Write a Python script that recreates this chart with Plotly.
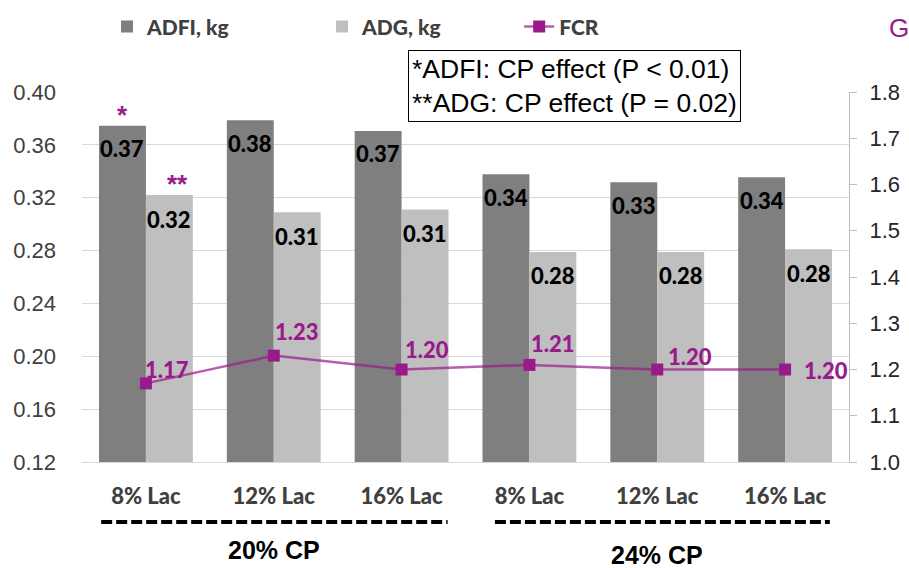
import plotly.graph_objects as go

categories = ["8% Lac", "12% Lac", "16% Lac", "8% Lac", "12% Lac", "16% Lac"]
adfi = [0.3745, 0.3786, 0.3705, 0.3378, 0.3317, 0.3355]
adg = [0.322, 0.309, 0.311, 0.279, 0.279, 0.281]
fcr = [1.17, 1.23, 1.20, 1.21, 1.20, 1.20]
cp_groups = ["20% CP", "24% CP"]
cp_centers = [1.0, 4.0]
cp_spans = [(-0.35, 2.36), (2.73, 5.35)]
left_ticks = [0.12, 0.16, 0.20, 0.24, 0.28, 0.32, 0.36, 0.40]
right_ticks = [1.0, 1.1, 1.2, 1.3, 1.4, 1.5, 1.6, 1.7, 1.8]

x = list(range(len(categories)))
DARK = "#7f7f7f"
LIGHT = "#bfbfbf"
PURPLE = "#991a8a"
LABEL_FONT = "Lato, Open Sans, sans-serif"
ARIAL = "Liberation Sans, Arial, sans-serif"

# label offsets (px) for the FCR value labels: (dx of left edge, dy of centre)
fcr_label_offsets = [(0, 14), (2, 24), (4, 20), (3, 21), (12, 13), (20, -1)]

fig = go.Figure()
fig.add_trace(go.Bar(x=x, y=adfi, name="ADFI, kg", marker_color=DARK, marker_line_width=0,
                     legend="legend"))
fig.add_trace(go.Bar(x=x, y=adg, name="ADG, kg", marker_color=LIGHT, marker_line_width=0,
                     legend="legend2"))
fig.add_trace(go.Scatter(
    x=x, y=fcr, name="FCR", yaxis="y2", mode="lines+markers",
    line=dict(color="rgba(153,26,138,0.7)", width=2.5),
    marker=dict(symbol="square", size=12, color=PURPLE),
    cliponaxis=False, legend="legend3",
))

annotations = []
half = 23.5
bold_lbl = dict(family=LABEL_FONT, size=22, color="black", weight=900)
for i in x:
    annotations.append(dict(x=i, y=adfi[i], xref="x", yref="y", text=f"{adfi[i]:.2f}",
                            showarrow=False, xshift=-half, yshift=-23, yanchor="middle",
                            font=bold_lbl))
    annotations.append(dict(x=i, y=adg[i], xref="x", yref="y", text=f"{adg[i]:.2f}",
                            showarrow=False, xshift=half, yshift=-24, yanchor="middle",
                            font=bold_lbl))
    dx, dy = fcr_label_offsets[i]
    annotations.append(dict(x=i, y=fcr[i], xref="x", yref="y2", text=f"{fcr[i]:.2f}",
                            showarrow=False, xanchor="left", yanchor="middle",
                            xshift=dx - 3, yshift=dy,
                            font=dict(family=LABEL_FONT, size=22, color=PURPLE, weight=900)))
# significance stars
annotations.append(dict(x=0, y=adfi[0], xref="x", yref="y", text="*", showarrow=False,
                        xshift=-half, yshift=-6, yanchor="bottom",
                        font=dict(family=ARIAL, size=26, color=PURPLE, weight="bold")))
annotations.append(dict(x=0, y=adg[0], xref="x", yref="y", text="**", showarrow=False,
                        xshift=half + 8, yshift=-6, yanchor="bottom",
                        font=dict(family=ARIAL, size=26, color=PURPLE, weight="bold")))
# note box
annotations.append(dict(x=0.425, y=1.1135, xref="paper", yref="paper", xanchor="left", yanchor="top",
                        text="*ADFI: CP effect (P < 0.01)<br>**ADG: CP effect (P = 0.02)",
                        align="left", showarrow=False, bordercolor="black", borderwidth=1,
                        borderpad=3, bgcolor="white",
                        font=dict(family=ARIAL, size=26.5, color="black")))
# G at top right
annotations.append(dict(x=1.065, y=1.173, xref="paper", yref="paper", text="G", showarrow=False,
                        xanchor="center", yanchor="middle",
                        font=dict(family=ARIAL, size=26, color=PURPLE)))
# CP group labels
for lab, cx, yy in zip(cp_groups, cp_centers, [-0.238, -0.250]):
    annotations.append(dict(x=cx, y=yy, xref="x", yref="paper", text=lab, showarrow=False,
                            xanchor="center", yanchor="middle",
                            font=dict(family=ARIAL, size=25, color="black", weight="bold")))

shapes = []
for x0, x1 in cp_spans:
    shapes.append(dict(type="line", xref="x", yref="paper", x0=x0, x1=x1, y0=-0.162, y1=-0.162,
                       line=dict(color="black", width=4, dash="11px,4px")))

legend_common = dict(orientation="h", y=1.176, xanchor="left", yanchor="middle",
                     font=dict(family=LABEL_FONT, size=21, color="#404040", weight=900),
                     bgcolor="rgba(0,0,0,0)", itemwidth=30)

fig.update_layout(
    width=909, height=568,
    margin=dict(l=82, r=60, t=92, b=106, autoexpand=False),
    paper_bgcolor="white", plot_bgcolor="white",
    barmode="group", bargap=0.266, bargroupgap=0,
    showlegend=True,
    legend=dict(x=0.0326, **legend_common),
    legend2=dict(x=0.313, **legend_common),
    legend3=dict(x=0.570, **legend_common),
    xaxis=dict(range=[-0.5, 5.5], tickmode="array", tickvals=x, ticktext=categories,
               showgrid=False, showline=True, linecolor="#d9d9d9", linewidth=1,
               ticks="", ticklabelstandoff=15, zeroline=False,
               tickfont=dict(family=LABEL_FONT, size=22, color="#404040", weight=900)),
    yaxis=dict(range=[0.12, 0.40], tickmode="array", tickvals=left_ticks, tickformat=".2f",
               showgrid=True, gridcolor="#d9d9d9", gridwidth=1, showline=False, zeroline=False,
               ticks="", ticklabelstandoff=25,
               tickfont=dict(family=ARIAL, size=22, color="#404040")),
    yaxis2=dict(range=[1.0, 1.8], overlaying="y", side="right", tickmode="array",
                tickvals=right_ticks, tickformat=".1f", showgrid=False, zeroline=False,
                showline=True, linecolor="#bfbfbf", linewidth=1,
                ticks="outside", ticklen=7, tickcolor="#bfbfbf", ticklabelstandoff=8,
                tickfont=dict(family=ARIAL, size=22, color="#262626")),
    annotations=annotations,
    shapes=shapes,
)

fig.write_html("out.html")
